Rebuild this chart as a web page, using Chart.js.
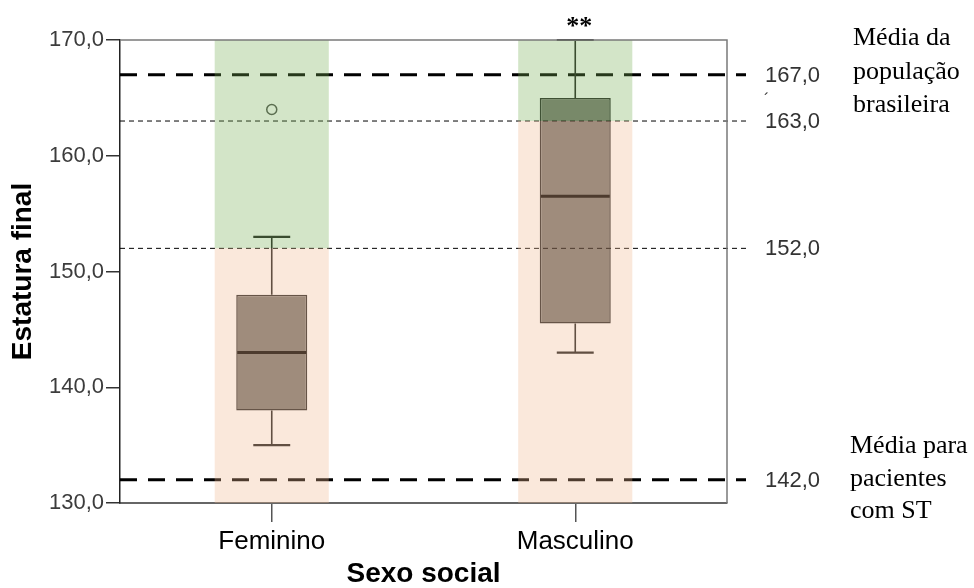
<!DOCTYPE html>
<html>
<head>
<meta charset="utf-8">
<script src="https://cdn.jsdelivr.net/npm/chart.js@4.4.1/dist/chart.umd.min.js"></script>
<style>
  html, body { margin: 0; padding: 0; background: #ffffff; }
  #wrap { width: 974px; height: 588px; }
</style>
</head>
<body>
<div id="wrap"><canvas id="chart" width="974" height="588"></canvas></div>
<script>
// Final height by social sex: box-and-whisker summary
const categories   = ['Feminino', 'Masculino'];
const whiskerLow   = [135, 143];
const quartile1    = [138, 145.5];
const medians      = [143, 156.5];
const quartile3    = [148, 165];
const whiskerHigh  = [153, 170];
const outliers     = [164, null];
const extremeMarks = ['', '**'];

// Reference lines and their printed labels
const refValues = [167, 163, 152, 132];
const refLabels = ['167,0', '163,0', '152,0', '142,0'];
const refHeavy  = [true, false, false, true];

// Target band: green above the split value, peach below it
const bandSplit = [152, 163];

// Y axis
const yMin = 130, yMax = 170, yStep = 10;

const SANS = "'Liberation Sans', Arial, sans-serif";
const SERIF = "'Liberation Serif', 'Times New Roman', serif";

const fmt = v => v.toFixed(1).replace('.', ',');

const boxDetails = {
  id: 'boxDetails',
  afterDatasetDraw(chart, args) {
    if (args.index !== 0) return;
    const { ctx, chartArea: a, scales: { y } } = chart;
    const meta = chart.getDatasetMeta(0);
    ctx.save();
    // reference lines, running a little past the frame
    refValues.forEach((v, i) => {
      const py = y.getPixelForValue(v);
      ctx.beginPath();
      ctx.strokeStyle = '#000';
      if (refHeavy[i]) { ctx.lineWidth = 3; ctx.setLineDash([17, 11]); }
      else { ctx.lineWidth = 1; ctx.setLineDash([5, 4]); }
      ctx.moveTo(a.left, py);
      ctx.lineTo(a.right + 19, py);
      ctx.stroke();
    });
    ctx.setLineDash([]);
    // whiskers, caps and medians
    meta.data.forEach((bar, i) => {
      const cx = bar.x;
      const capHalf = bar.width * 0.26;
      const half = bar.width / 2;
      const yHi = y.getPixelForValue(whiskerHigh[i]);
      const yLo = y.getPixelForValue(whiskerLow[i]);
      const yQ3 = y.getPixelForValue(quartile3[i]);
      const yQ1 = y.getPixelForValue(quartile1[i]);
      const yMed = y.getPixelForValue(medians[i]);
      ctx.strokeStyle = '#1e1e1e';
      ctx.lineWidth = 1.6;
      ctx.beginPath();
      ctx.moveTo(cx, yQ3); ctx.lineTo(cx, yHi);
      ctx.moveTo(cx, yQ1); ctx.lineTo(cx, yLo);
      ctx.stroke();
      ctx.lineWidth = 2.2;
      ctx.beginPath();
      ctx.moveTo(cx - capHalf, yHi); ctx.lineTo(cx + capHalf, yHi);
      ctx.moveTo(cx - capHalf, yLo); ctx.lineTo(cx + capHalf, yLo);
      ctx.stroke();
      ctx.lineWidth = 3;
      ctx.strokeStyle = '#000';
      ctx.beginPath();
      ctx.moveTo(cx - half + 1, yMed); ctx.lineTo(cx + half - 1, yMed);
      ctx.stroke();
    });
    ctx.restore();
  },
  afterDatasetsDraw(chart) {
    const { ctx, chartArea: a } = chart;
    ctx.save();
    ctx.strokeStyle = '#7a7a7a';
    ctx.lineWidth = 1.5;
    ctx.beginPath();
    ctx.moveTo(a.left, a.top); ctx.lineTo(a.right, a.top); ctx.lineTo(a.right, a.bottom);
    ctx.stroke();
    ctx.restore();
  },
  afterDraw(chart) {
    const { ctx, scales: { x, y } } = chart;
    ctx.save();
    // reference values on the right
    ctx.fillStyle = '#333';
    ctx.font = '22px ' + SANS;
    ctx.textAlign = 'left';
    ctx.textBaseline = 'middle';
    refValues.forEach((v, i) => ctx.fillText(refLabels[i], 765, y.getPixelForValue(v) + 1));
    ctx.font = '16px ' + SANS;
    ctx.fillText('\u00B4', 764, 101);
    // notes
    ctx.fillStyle = '#000';
    ctx.font = '26px ' + SERIF;
    ctx.textBaseline = 'alphabetic';
    ['Média da', 'população', 'brasileira'].forEach((t, i) => ctx.fillText(t, 853, 45 + i * 33.5));
    ['Média para', 'pacientes', 'com ST'].forEach((t, i) => ctx.fillText(t, 850, 453 + i * 32.5));
    // extreme markers above the plot
    ctx.textAlign = 'center';
    ctx.font = 'bold 26px ' + SERIF;
    extremeMarks.forEach((m, i) => { if (m) ctx.fillText(m, x.getPixelForValue(i) + 4, 34); });
    ctx.restore();
  }
};

new Chart(document.getElementById('chart'), {
  type: 'bar',
  data: {
    labels: categories,
    datasets: [
      {
        label: 'Caixa',
        data: categories.map((c, i) => [quartile1[i], quartile3[i]]),
        backgroundColor: '#7a7874',
        borderColor: '#262626',
        borderWidth: 1.5,
        borderSkipped: false,
        barPercentage: 0.234,
        categoryPercentage: 1,
        grouped: false,
        order: 3
      },
      {
        type: 'line',
        label: 'Outliers',
        data: outliers,
        showLine: false,
        pointRadius: 5,
        pointBorderWidth: 1.5,
        pointBackgroundColor: 'rgba(0,0,0,0)',
        pointBorderColor: '#4e504e',
        order: 2
      },
      {
        label: 'Acima',
        data: categories.map((c, i) => [bandSplit[i], yMax]),
        backgroundColor: 'rgba(119,175,84,0.32)',
        borderWidth: 0,
        barPercentage: 0.376,
        categoryPercentage: 1,
        grouped: false,
        order: 1
      },
      {
        label: 'Abaixo',
        data: categories.map((c, i) => [yMin, bandSplit[i]]),
        backgroundColor: 'rgba(240,184,144,0.32)',
        borderWidth: 0,
        barPercentage: 0.376,
        categoryPercentage: 1,
        grouped: false,
        order: 0
      }
    ]
  },
  options: {
    responsive: false,
    animation: false,
    devicePixelRatio: 1,
    layout: { padding: { left: 0, right: 247, top: 40, bottom: 0 } },
    plugins: { legend: { display: false }, tooltip: { enabled: false } },
    scales: {
      x: {
        offset: true,
        afterFit: s => { s.height = 85; },
        grid: { drawOnChartArea: false, offset: false, tickLength: 19, color: '#555', lineWidth: 1.5 },
        border: { color: '#666', width: 2 },
        ticks: { color: '#000', font: { family: SANS, size: 26 }, padding: 4 },
        title: { display: true, text: 'Sexo social', color: '#000',
                 font: { family: SANS, size: 28, weight: 'bold' }, padding: { top: 0, bottom: -3 } }
      },
      y: {
        min: yMin, max: yMax,
        afterFit: s => { s.width = 120; },
        grid: { drawOnChartArea: false, tickLength: 14, color: '#333', lineWidth: 1.5 },
        border: { color: '#222', width: 1.5 },
        ticks: { stepSize: yStep, color: '#3c3c3c', font: { family: SANS, size: 22 }, padding: 2,
                 callback: v => fmt(v) },
        title: { display: true, text: 'Estatura final', color: '#000',
                 font: { family: SANS, size: 28, weight: 'bold' }, padding: { top: 6, bottom: 0 } }
      }
    }
  },
  plugins: [boxDetails]
});
</script>
</body>
</html>
